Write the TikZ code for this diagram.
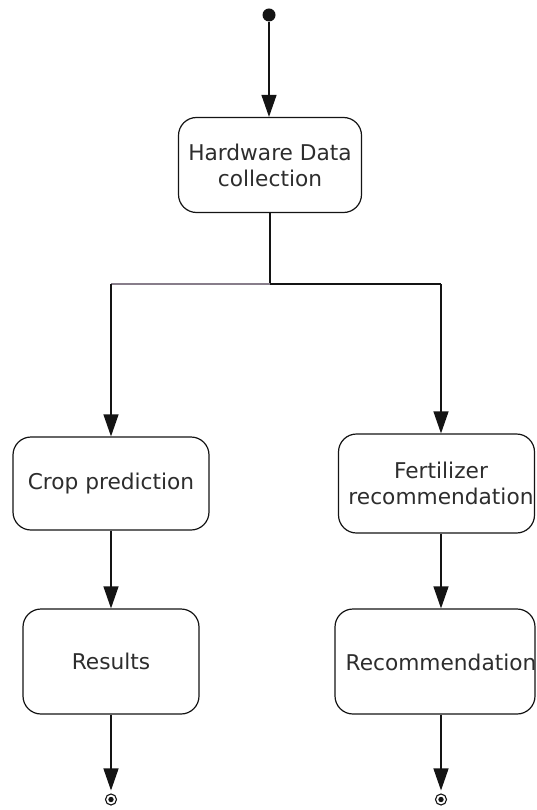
\documentclass[tikz,border=0pt]{standalone}
\usepackage{fontspec}
\setmainfont{DejaVu Sans}
\usetikzlibrary{arrows.meta}
\definecolor{ink}{RGB}{20,20,20}
\definecolor{txt}{RGB}{45,45,45}
\definecolor{branchgray}{RGB}{135,125,138}
\tikzset{
  box/.style={draw=ink, line width=1.2pt, rounded corners=18pt, rectangle,
    align=center, text=txt, inner sep=0pt,
    font=\fontsize{21.7}{26}\selectfont},
  lbl/.style={align=center, text=txt, inner sep=0pt,
    font=\fontsize{21.7}{26}\selectfont},
  flow/.style={draw=ink, line width=1.2pt,
    -{Triangle[length=22pt,width=15pt]}},
  link/.style={draw=ink, line width=1.2pt},
  startdot/.style={circle, fill=ink, minimum size=13pt, inner sep=0pt},
  enddot/.style={circle, draw=ink, line width=1.1pt, minimum size=11pt, inner sep=0pt,
    path picture={\fill[ink] (path picture bounding box.center) circle (2.7pt);}}
}
\begin{document}
\begin{tikzpicture}[x=1pt,y=-1pt]
\useasboundingbox[fill=white] (0,0) rectangle (536,810);

% initial state
\node[startdot] (start) at (269,15) {};

% activities
\node[box, minimum width=183pt, minimum height=95pt] (hw) at (270,165)
  {Hardware Data\\collection};
\node[box, minimum width=196pt, minimum height=93pt] (crop) at (111,483.5)
  {Crop prediction};
\node[box, minimum width=196pt, minimum height=99pt] (fert) at (436.5,483.5) {};
\node[lbl] (fertlbl) at (441,483) {Fertilizer\\recommendation};
\node[box, minimum width=176pt, minimum height=105pt] (res) at (111,661.5)
  {Results};
\node[box, minimum width=200pt, minimum height=105pt] (rec) at (435,661.5) {};
\node[lbl] (reclbl) at (441,662) {Recommendation};

% final states
\node[enddot] (endl) at (111,799.5) {};
\node[enddot] (endr) at (441,799.5) {};

% fork points
\coordinate (split) at (270,284);
\coordinate (lbranch) at (111,284);
\coordinate (rbranch) at (441,284);

% connectors
\draw[flow] (start) -- (start |- hw.north);
\draw[link] (hw.south) -- (split);
\draw[draw=branchgray, line width=1.3pt] (split) -- (lbranch);
\draw[link] (split) -- (rbranch);
\draw[flow] (lbranch) -- (lbranch |- crop.north);
\draw[flow] (rbranch) -- (rbranch |- fert.north);
\draw[flow] (crop.south) -- (res.north);
\draw[flow] (fert.south -| rbranch) -- (rec.north -| rbranch);
\draw[flow, shorten >=3pt] (res.south) -- (endl.north);
\draw[flow, shorten >=3pt] (rec.south -| endr) -- (endr.north);
\end{tikzpicture}
\end{document}
